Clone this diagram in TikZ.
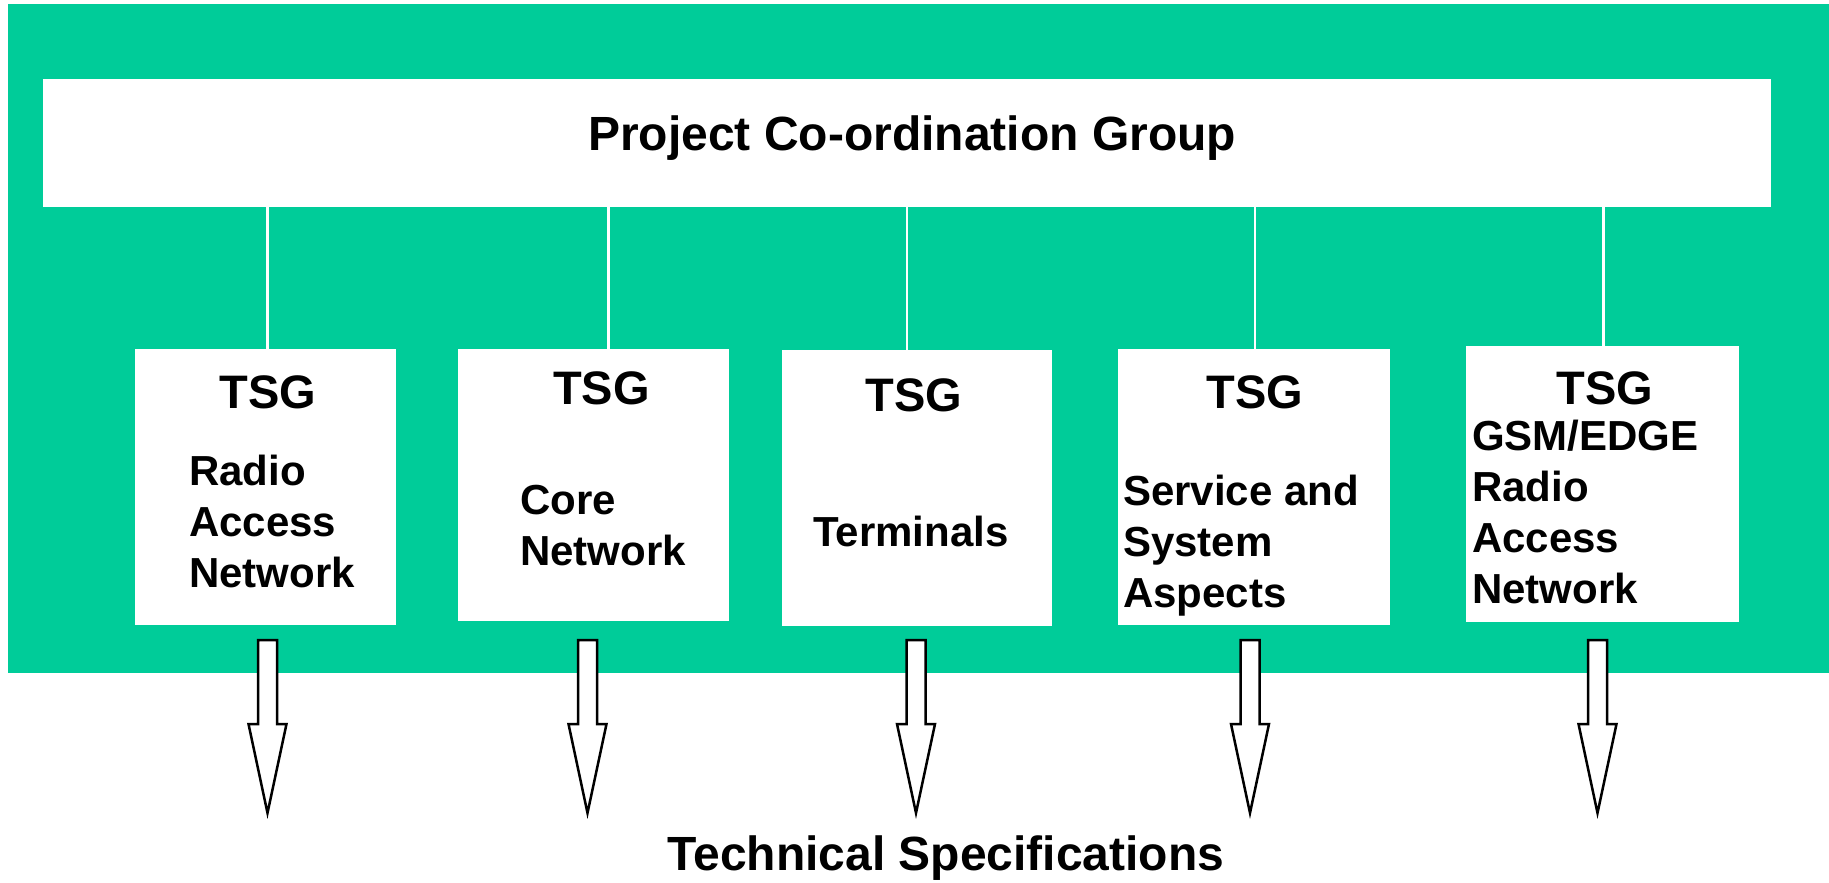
\documentclass[tikz,border=0pt]{standalone}
\usepackage{fontspec}
\setmainfont{Liberation Sans}
\usetikzlibrary{positioning}
\definecolor{pcgreen}{RGB}{0,204,153}

\tikzset{
	groupbox/.style={fill=white,inner sep=0pt,outer sep=0pt,anchor=north west},
	link/.style={draw=white,line width=2.5pt},
	tsarrow/.style={draw=black,fill=white,line width=2.5pt,line join=miter},
	tsgtext/.style={font=\bfseries\fontsize{42}{51}\selectfont,align=left,anchor=base west,inner sep=0pt}
}

\begin{document}
\begin{tikzpicture}[x=1pt,y=-1pt]
	\useasboundingbox (0,0) rectangle (1829,883);
	\fill[pcgreen] (8,4) rectangle (1829,673);

	\begin{scope}[every node/.style={groupbox}]
		\node[minimum width=1728pt,minimum height=128pt] (pcg) at (43,79) {};
		\node[minimum width=261pt,minimum height=276pt] (ran) at (135,349) {};
		\node[minimum width=271pt,minimum height=272pt] (cn) at (458,349) {};
		\node[minimum width=270pt,minimum height=276pt] (term) at (782,350) {};
		\node[minimum width=272pt,minimum height=276pt] (sa) at (1118,349) {};
		\node[minimum width=273pt,minimum height=276pt] (geran) at (1466,346) {};
	\end{scope}

	% white lines up to the PCG
	\foreach \b/\dl in {ran/2,cn/15,term/-10,sa/1,geran/1}
		\draw[link] (\b.north) ++(\dl,0) coordinate (lt) -- (lt |- pcg.south);

	% block arrows down to the specs
	\coordinate (tsrow) at (0,640);
	\foreach \b/\dx in {ran/2,cn/-6,term/-1,sa/-4,geran/-5}
		\draw[tsarrow] (\b.south |- tsrow) ++(\dx-9.5,0) -- ++(19,0) -- ++(0,84) -- ++(9.5,0)
			-- ++(-19,89) -- ++(-19,-89) -- ++(9.5,0) -- cycle;

	\begin{scope}[every node/.style={font=\bfseries\fontsize{47}{56}\selectfont,inner sep=0pt,anchor=base}]
		\node (ranT) at (268,408) {TSG};
		\node (cnT) at (601.5,404) {TSG};
		\node (termT) at (914,411) {TSG};
		\node (saT) at (1255,408) {TSG};
		\node (geranT) at (1605,404) {TSG};
	\end{scope}

	% base of a multi-line text is its last line
	\node[tsgtext] (ranL) at (189,587) {Radio\\Access\\Network};
	\node[tsgtext] (cnL) at (520,565) {Core\\Network};
	\node[tsgtext] (termL) at (813,546) {Terminals};
	\node[tsgtext] (saL) at (1123,607) {Service and\\System\\Aspects};
	\node[tsgtext] (geranL) at (1472,603) {GSM/EDGE\\Radio\\Access\\Network};

	\node[font=\bfseries\fontsize{48}{58}\selectfont,inner sep=0pt,anchor=base] (pcgL) at (912,150) {Project Co-ordination Group};
	\node[font=\bfseries\fontsize{48}{58}\selectfont,inner sep=0pt,anchor=base] (specs) at (946,870) {Technical Specifications};
\end{tikzpicture}
\end{document}
